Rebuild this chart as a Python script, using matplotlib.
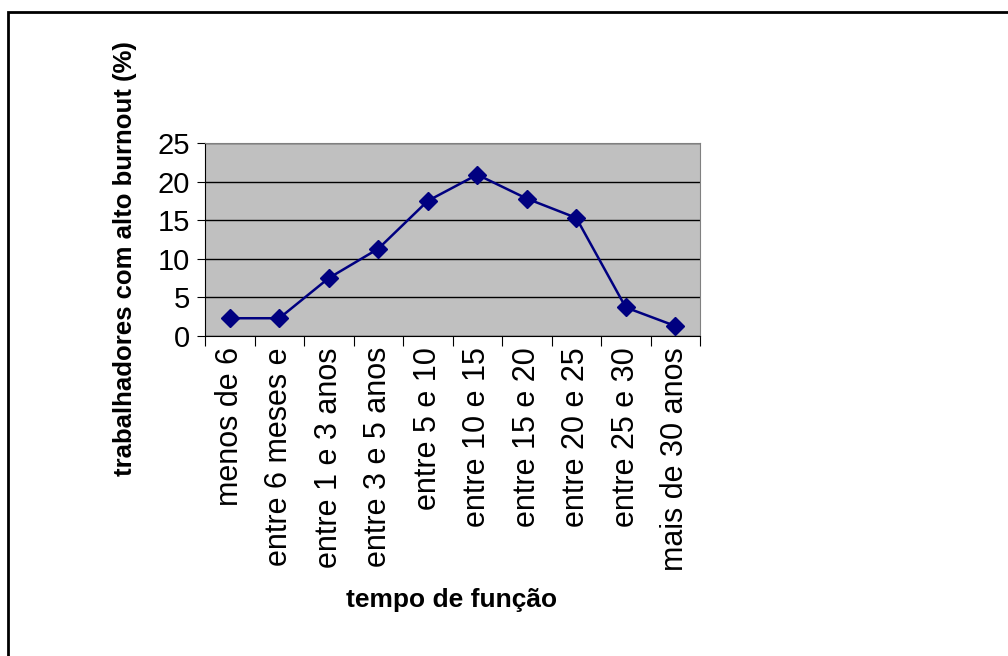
import matplotlib.pyplot as plt
from matplotlib.patches import Rectangle

# Dados
categorias = ["menos de 6", "entre 6 meses e", "entre 1 e 3 anos",
              "entre 3 e 5 anos", "entre 5 e 10", "entre 10 e 15",
              "entre 15 e 20", "entre 20 e 25", "entre 25 e 30",
              "mais de 30 anos"]
valores = [2.3, 2.3, 7.5, 11.3, 17.5, 20.9, 17.8, 15.3, 3.7, 1.3]
yticks = [0, 5, 10, 15, 20, 25]

plt.rcParams['font.family'] = ['Liberation Sans', 'DejaVu Sans']

fig = plt.figure(figsize=(10.08, 6.56), dpi=100)
ax = fig.add_axes([205/1008, 1 - 336/656, 495/1008, 193/656])

# moldura externa (cortada à direita e em baixo)
fig.patches.append(Rectangle((8/1008, -0.2), 1.5, 1.2 - 12/656,
                             transform=fig.transFigure, fill=False,
                             edgecolor='black', linewidth=2))

x = range(len(categorias))
ax.plot(x, valores, color='#000080', linewidth=1.8, marker='D',
        markersize=9, markerfacecolor='#000080', markeredgecolor='#000080',
        zorder=3)

ax.set_facecolor('#C0C0C0')
ax.set_xlim(-0.5, len(categorias) - 0.5)
ax.set_ylim(0, 25)
ax.set_yticks(yticks)
ax.yaxis.grid(True, color='black', linewidth=1)
ax.set_axisbelow(True)
for s in ['top', 'right']:
    ax.spines[s].set_color('#808080')
ax.spines['left'].set_color('black')
ax.spines['bottom'].set_color('black')

ax.set_xticks([i - 0.5 for i in range(len(categorias) + 1)])
ax.set_xticklabels([])
ax.set_xticks(list(x), minor=True)
ax.set_xticklabels(categorias, minor=True, rotation=90, va='top', ha='center',
                   fontsize=22)
ax.tick_params(axis='x', which='minor', length=0, pad=8)
ax.tick_params(axis='x', which='major', length=7, direction='out')
ax.tick_params(axis='y', length=6, labelsize=21, pad=5)

fig.text(125/1008, 1 - 259/656, "trabalhadores com alto burnout (%)",
         rotation=90, ha='center', va='center', fontsize=18.5, fontweight='bold')
fig.text(452/1008, 1 - 600/656, "tempo de função", ha='center', va='center',
         fontsize=19, fontweight='bold')

fig.savefig("out.png", dpi=100)
